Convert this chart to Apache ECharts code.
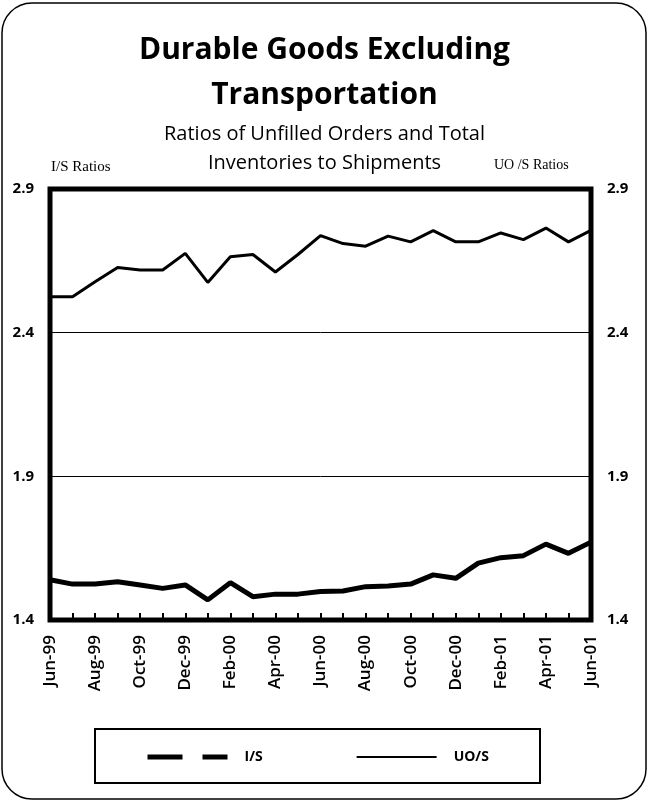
<!DOCTYPE html>
<html>
<head>
<meta charset="utf-8">
<script src="https://cdn.jsdelivr.net/npm/echarts@6/dist/echarts.min.js"></script>
<style>
html, body { margin: 0; padding: 0; background: #fff; }
#chart { width: 649px; height: 802px; }
</style>
</head>
<body>
<div id="chart"></div>
<script>
// monthly, Jun-99 .. Jun-01
var months = ['Jun-99', 'Jul-99', 'Aug-99', 'Sep-99', 'Oct-99', 'Nov-99', 'Dec-99',
  'Jan-00', 'Feb-00', 'Mar-00', 'Apr-00', 'May-00', 'Jun-00', 'Jul-00', 'Aug-00',
  'Sep-00', 'Oct-00', 'Nov-00', 'Dec-00', 'Jan-01', 'Feb-01', 'Mar-01', 'Apr-01',
  'May-01', 'Jun-01'];

var isRatio = [1.54, 1.525, 1.525, 1.533, 1.522, 1.51, 1.522, 1.47, 1.53, 1.481,
  1.49, 1.49, 1.499, 1.501, 1.516, 1.518, 1.525, 1.557, 1.545, 1.598, 1.617,
  1.624, 1.664, 1.632, 1.671];

var uosRatio = [2.525, 2.525, 2.577, 2.627, 2.618, 2.618, 2.676, 2.575, 2.664,
  2.672, 2.611, 2.672, 2.738, 2.71, 2.701, 2.736, 2.716, 2.755, 2.716, 2.716,
  2.747, 2.724, 2.764, 2.716, 2.756];

var yMin = 1.4, yMax = 2.9, yStep = 0.5;

var chart = echarts.init(document.getElementById('chart'));

var sans = 'Open Sans';
var serif = 'Liberation Serif';

var option = {
  backgroundColor: '#fff',
  animation: false,
  title: [
    {
      text: 'Durable Goods Excluding\nTransportation',
      left: 'center',
      top: 23,
      textStyle: { fontFamily: sans, fontWeight: 'bold', fontSize: 30, lineHeight: 45, color: '#000' }
    },
    {
      text: 'Ratios of Unfilled Orders and Total\nInventories to Shipments',
      left: 'center',
      top: 115,
      textStyle: { fontFamily: sans, fontWeight: 'normal', fontSize: 20, lineHeight: 29, color: '#000' }
    }
  ],
  graphic: [
    {
      type: 'rect',
      shape: { x: 2, y: 3, width: 644, height: 796, r: 30 },
      style: { fill: 'none', stroke: '#000', lineWidth: 1.5 },
      silent: true
    },
    {
      type: 'rect',
      shape: { x: 95, y: 729, width: 445, height: 54 },
      style: { fill: 'none', stroke: '#000', lineWidth: 2 },
      silent: true
    },
    {
      type: 'text',
      left: 51, top: 160,
      style: { text: 'I/S Ratios', font: '15px "' + serif + '"', fill: '#000' }
    },
    {
      type: 'text',
      left: 494, top: 158,
      style: { text: 'UO /S Ratios', font: '14px "' + serif + '"', fill: '#000' }
    }
  ],
  legend: {
    left: 140,
    top: 745,
    itemWidth: 80,
    itemHeight: 10,
    itemGap: 93,
    textStyle: { fontFamily: sans, fontWeight: 'bold', fontSize: 14, color: '#000', padding: [0, 0, 0, 12] },
    data: [
      { name: 'I/S', itemStyle: { opacity: 0 }, lineStyle: { width: 5, type: [35, 20] } },
      { name: 'UO/S', itemStyle: { opacity: 0 }, lineStyle: { width: 2 } }
    ]
  },
  grid: {
    left: 50,
    right: 58,
    top: 189,
    bottom: 182,
    show: true,
    borderWidth: 5,
    borderColor: '#000'
  },
  xAxis: {
    type: 'category',
    boundaryGap: false,
    data: months,
    axisLine: { show: false },
    axisTick: { show: true, inside: true, interval: 0, length: 7, lineStyle: { color: '#000', width: 2 } },
    axisLabel: {
      interval: 1,
      rotate: 90,
      margin: 15,
      fontFamily: sans,
      fontWeight: 600,
      fontSize: 17,
      color: '#000'
    },
    splitLine: { show: false }
  },
  yAxis: [
    {
      type: 'value',
      min: yMin,
      max: yMax,
      interval: yStep,
      axisLine: { show: false },
      axisTick: { show: false },
      axisLabel: {
        margin: 16,
        fontFamily: sans,
        fontWeight: 'bold',
        fontSize: 15,
        color: '#000',
        formatter: function (v) { return v.toFixed(1); }
      },
      splitLine: { show: true, lineStyle: { color: '#000', width: 1 } }
    },
    {
      type: 'value',
      position: 'right',
      min: yMin,
      max: yMax,
      interval: yStep,
      axisLine: { show: false },
      axisTick: { show: false },
      axisLabel: {
        margin: 16,
        fontFamily: sans,
        fontWeight: 'bold',
        fontSize: 15,
        color: '#000',
        formatter: function (v) { return v.toFixed(1); }
      },
      splitLine: { show: false }
    }
  ],
  series: [
    {
      name: 'I/S',
      type: 'line',
      yAxisIndex: 0,
      data: isRatio,
      symbol: 'none',
      lineStyle: { color: '#000', width: 5 },
      itemStyle: { color: '#000' }
    },
    {
      name: 'UO/S',
      type: 'line',
      yAxisIndex: 1,
      data: uosRatio,
      symbol: 'none',
      lineStyle: { color: '#000', width: 3 },
      itemStyle: { color: '#000' }
    }
  ]
};

chart.setOption(option);
</script>
</body>
</html>
